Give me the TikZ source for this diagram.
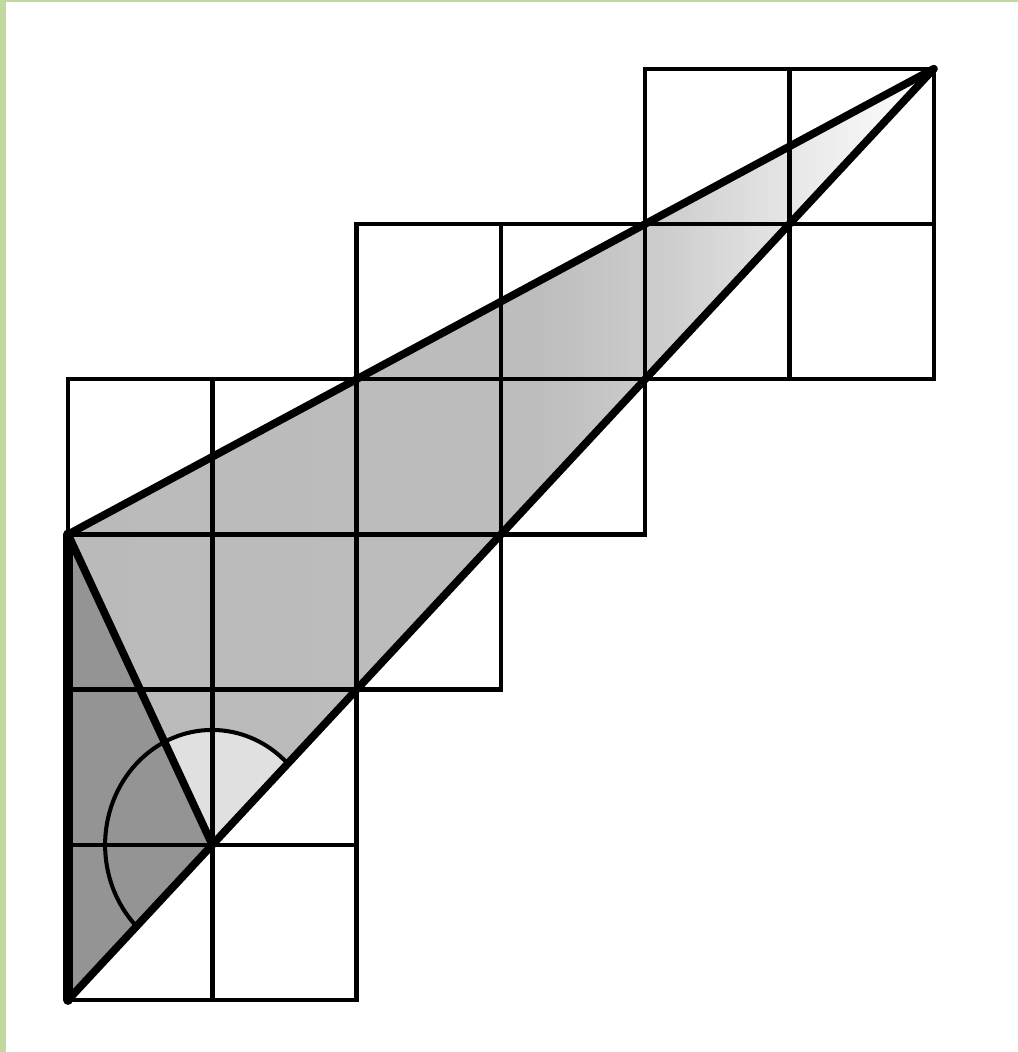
\documentclass[tikz,border=0pt]{standalone}
\usepackage{xcolor}
\usepackage{tikz}
\usetikzlibrary{calc}
\definecolor{framegreen}{RGB}{193,217,159}
\pgfdeclarehorizontalshading{lightfade}{100bp}{color(0bp)=(black!27); color(25bp)=(black!27);
  color(52bp)=(black!26); color(60bp)=(black!19); color(68bp)=(black!8); color(75bp)=(white); color(100bp)=(white)}

\begin{document}
\begin{tikzpicture}[
    x=2.886cm, y=3.104cm,
    cell/.style={draw, line width=2.6pt},
    edge/.style={draw, line width=4.4pt, line cap=round, line join=round},
    darkpart/.style={fill=black!42},
    lightpart/.style={shading=lightfade},
    arcline/.style={draw, line width=2.3pt}
]

% Frame and margins
\useasboundingbox (-1.36cm,-1.04cm) rectangle (19.0cm,20.0cm);
\fill[framegreen] (-1.36cm,-1.04cm) rectangle (-1.24cm,20.0cm);
\fill[framegreen] (-1.36cm,19.95cm) rectangle (19.0cm,20.0cm);

% Corner points
\coordinate (O) at (0,0);
\coordinate (P) at (1,1);
\coordinate (A) at (0,3);
\coordinate (T) at (6,6);

% Shaded triangles
\shade[lightpart] (A) -- (P) -- (T) -- cycle;
\fill[darkpart] (A) -- (O) -- (P) -- cycle;
\fill[black!12] (P) -- ($(P)+(0.523,0.523)$) arc[start angle=45, end angle=116.57, x radius=2.14cm, y radius=2.30cm] -- cycle;

% Squares
\foreach \i/\j in {0/0, 1/0, 0/1, 1/1, 0/2, 1/2, 0/3, 1/3, 2/2,
                   2/3, 3/3, 2/4, 3/4, 4/4, 5/4, 4/5, 5/5}
  \draw[cell] (\i,\j) rectangle ++(1,1);

% Triangle sides
\draw[edge] (A) -- (T);
\draw[edge] (O) -- (T);
\draw[edge, line width=5.6pt] (A) -- (O);
\draw[edge] (A) -- (P);

% Angle arc at P
\draw[arcline] ($(P)+(0.523,0.523)$) arc[start angle=45, end angle=225, x radius=2.14cm, y radius=2.30cm];

\end{tikzpicture}
\end{document}
